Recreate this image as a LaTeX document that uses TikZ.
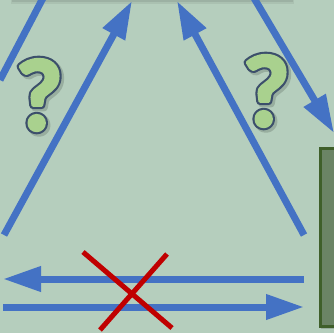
\documentclass[tikz,border=0pt]{standalone}
\usepackage{fontspec}
\newfontfamily\qfont{Carlito}
\usetikzlibrary{arrows.meta,calc}
\definecolor{bg}{HTML}{B5CEBD}
\definecolor{arr}{HTML}{4472C4}
\definecolor{xred}{HTML}{C00000}
\definecolor{boxfill}{HTML}{6B8465}
\definecolor{boxline}{HTML}{3F5F2A}
\definecolor{qfill}{HTML}{A9D18E}
\definecolor{qline}{HTML}{3B4E6A}
\definecolor{qshadow}{HTML}{7D8F83}
\tikzset{
  flow/.style={draw=arr, line width=7pt, -{Triangle[length=38pt,width=24pt]}},
  plain/.style={draw=arr, line width=7pt},
  cross/.style={draw=xred, line width=5pt},
  qmark/.style={font=\qfont\bfseries\fontsize{102}{102}\selectfont, inner sep=0pt},
}
% stroke helpers: width and RGB stroke colour
\newcommand{\strk}[3]{\special{pdf:literal direct 2 Tr #1 w 1 j #2 RG}#3\special{pdf:literal direct 0 Tr}}
\begin{document}
\begin{tikzpicture}[x=1pt,y=-1pt]
\useasboundingbox (0,0) rectangle (334,333);
\fill[bg] (0,0) rectangle (334,333);
% top box shadow
\fill[black, opacity=0.06] (11,-10) rectangle (294,4);
\fill[black, opacity=0.08] (12,-10) rectangle (293,2);
% right box
\fill[black, opacity=0.15] (321,149) rectangle (340,329);
\node[draw=boxline, fill=boxfill, line width=2.5pt, minimum width=40pt, minimum height=178pt, anchor=north west, inner sep=0pt] (rbox) at (319,147) {};
% coordinates
\coordinate (a1s) at (0,80);
\coordinate (a1e) at (43,-2);
\coordinate (a2s) at (4,235);
\coordinate (a2e) at (132,1);
\coordinate (a3s) at (304,235);
\coordinate (a3e) at (177,1);
\coordinate (a4s) at (254,-2);
\coordinate (a4e) at (334,133);
\coordinate (hls) at (304,279);
\coordinate (hle) at (3,279);
\coordinate (hrs) at (3,307);
\coordinate (hre) at (304,307);
\draw[plain] (a1s) -- (a1e);
\draw[flow] (a2s) -- (a2e);
\draw[flow] (a3s) -- (a3e);
\draw[flow] (a4s) -- (a4e);
\draw[flow] (hls) -- (hle);
\draw[flow] (hrs) -- (hre);
% red cross
\coordinate (x1) at (83,252);
\coordinate (x2) at (172,328);
\coordinate (x3) at (167,254);
\coordinate (x4) at (100,330);
\draw[cross] (x1) -- (x2);
\draw[cross] (x3) -- (x4);
% question marks
\coordinate (q1) at (39,95);
\coordinate (q2) at (266,91);
\foreach \q in {q1,q2}{
  \node[qmark, text=qshadow, opacity=0.5] at ($(\q)+(2.2,2.2)$) {\strk{8}{0.49 0.56 0.51}{?}};
  \node[qmark, text=qline] at (\q) {\strk{7.5}{0.235 0.31 0.42}{?}};
}
\node[qmark, text=qfill] (qa) at (q1) {\strk{3.2}{0.663 0.82 0.557}{?}};
\node[qmark, text=qfill] (qb) at (q2) {\strk{3.2}{0.663 0.82 0.557}{?}};
\end{tikzpicture}
\end{document}
